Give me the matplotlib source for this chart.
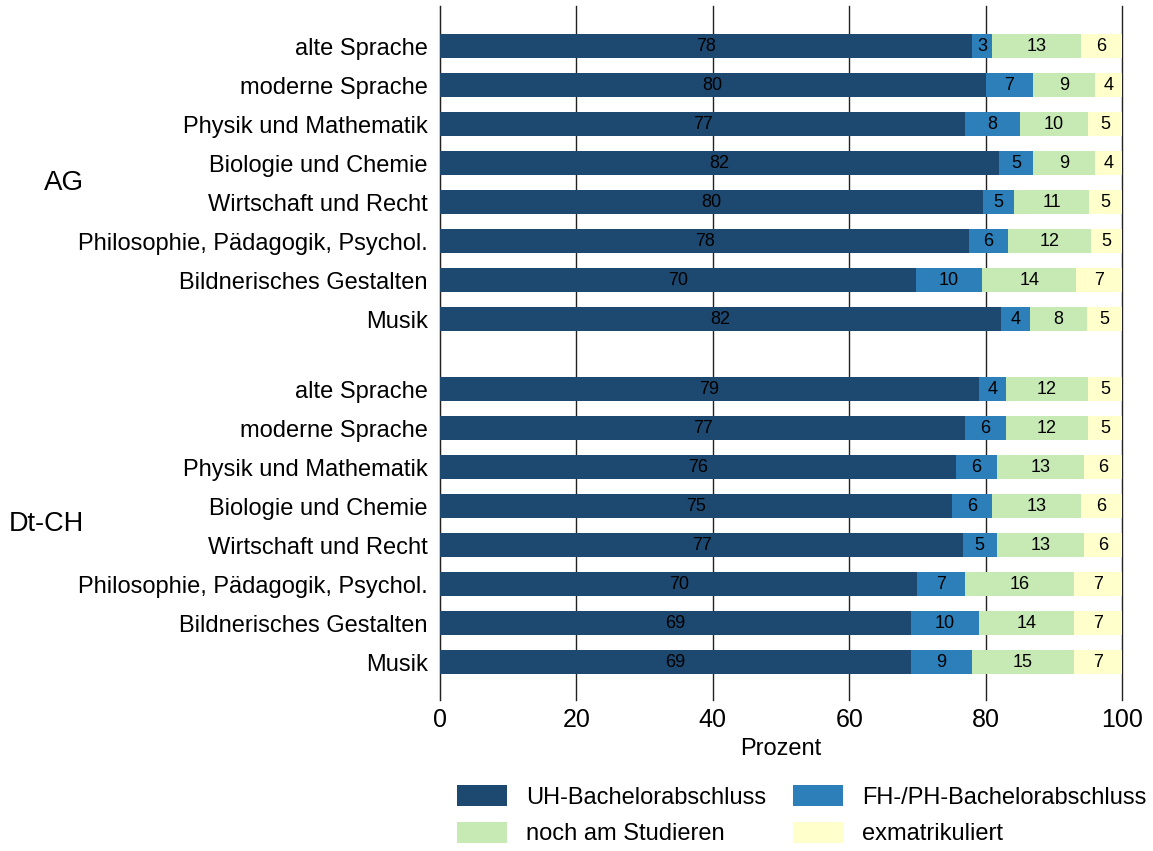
import matplotlib
matplotlib.use("Agg")
import matplotlib.pyplot as plt
import numpy as np

plt.rcParams['font.family'] = ['Liberation Sans', 'DejaVu Sans']

groups = ["AG", "Dt-CH"]
categories = ["alte Sprache", "moderne Sprache", "Physik und Mathematik",
              "Biologie und Chemie", "Wirtschaft und Recht",
              "Philosophie, Pädagogik, Psychol.", "Bildnerisches Gestalten", "Musik"]
series = ["UH-Bachelorabschluss", "FH-/PH-Bachelorabschluss",
          "noch am Studieren", "exmatrikuliert"]

ag_uh = [78.0, 80.0, 77.0, 82.0, 79.6, 77.6, 69.8, 82.3]
ag_fh = [3.0, 7.0, 8.0, 5.0, 4.6, 5.7, 9.7, 4.2]
ag_st = [13.0, 9.0, 10.0, 9.0, 11.0, 12.1, 13.8, 8.4]
ag_ex = [6.0, 4.0, 5.0, 4.0, 4.8, 4.6, 6.7, 5.1]

ch_uh = [79.0, 77.0, 75.7, 75.0, 76.7, 70.0, 69.0, 69.0]
ch_fh = [4.0, 6.0, 5.9, 6.0, 4.9, 7.0, 10.0, 9.0]
ch_st = [12.0, 12.0, 12.8, 13.0, 12.8, 16.0, 14.0, 15.0]
ch_ex = [5.0, 5.0, 5.6, 6.0, 5.6, 7.0, 7.0, 7.0]

colors = ["#1d4870", "#2c7fb8", "#c7e9b4", "#ffffcc"]

fig = plt.figure(figsize=(11.53, 8.51), dpi=100)
ax = fig.add_axes([440/1153, 1-700/851, 682/1153, 694/851])

n = len(categories)
gap = 0.8
y_ag = np.arange(n)
y_ch = np.arange(n) + n + gap
ys = np.concatenate([y_ag, y_ch])
data = [np.array(a + c) for a, c in zip([ag_uh, ag_fh, ag_st, ag_ex],
                                        [ch_uh, ch_fh, ch_st, ch_ex])]

handles = []
left = np.zeros(len(ys))
for vals, col, name in zip(data, colors, series):
    bars = ax.barh(ys, vals, left=left, height=0.62, color=col, label=name,
                   zorder=3)
    handles.append(bars)
    for yy, l, v in zip(ys, left, vals):
        ax.text(l + v/2, yy, f"{round(v):d}", ha='center', va='center',
                fontsize=13, color='black', zorder=4)
    left = left + vals

ax.set_xlim(0, 100)
ax.set_ylim(ys[-1] + 0.97, -1.03)
ax.set_yticks(ys)
ax.set_yticklabels(categories + categories, fontsize=17)
ax.set_xticks([0, 20, 40, 60, 80, 100])
ax.tick_params(axis='x', labelsize=18, length=0, pad=6)
ax.tick_params(axis='y', length=0, pad=9)
ax.grid(axis='x', color='#222222', linewidth=1.0, zorder=0)
for gl in ax.get_xgridlines():
    gl.set_clip_on(False)
for s in ['top', 'right', 'bottom']:
    ax.spines[s].set_visible(False)
ax.spines['left'].set_color('#222222')
ax.set_xlabel("Prozent", fontsize=17, labelpad=4)

fig.text(84/1153, 1-183/851, groups[0], ha='right', va='center', fontsize=20)
fig.text(84/1153, 1-524/851, groups[1], ha='right', va='center', fontsize=19.5)

order = [0, 2, 1, 3]
fig.legend([handles[i] for i in order], [series[i] for i in order],
           loc='upper left', bbox_to_anchor=(457/1153, 1-785/851), ncol=2,
           frameon=False, fontsize=17, handlelength=2.12, handleheight=1.0,
           handletextpad=0.8, columnspacing=1.15, labelspacing=0.55,
           borderpad=0, borderaxespad=0)

fig.savefig("out.png", dpi=100)
